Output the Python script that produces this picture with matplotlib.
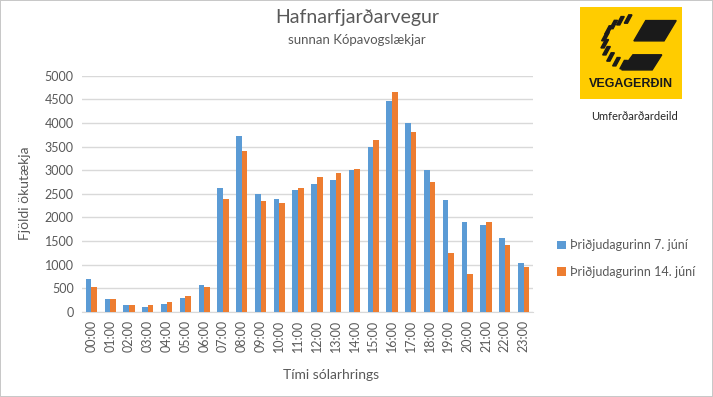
import matplotlib
matplotlib.use("Agg")
import matplotlib.pyplot as plt
import numpy as np
from matplotlib.patches import Polygon, Rectangle

hours = [f"{h:02d}:00" for h in range(24)]
week1 = [700, 275, 150, 100, 170, 300, 570, 2630, 3720, 2500, 2380, 2570,
         2700, 2780, 3000, 3500, 4460, 3990, 3000, 2360, 1890, 1840, 1560, 1040]
week2 = [520, 270, 150, 145, 205, 330, 520, 2380, 3400, 2350, 2300, 2630,
         2850, 2930, 3030, 3630, 4660, 3800, 2750, 1240, 800, 1890, 1410, 940]
labels = ["Þriðjudagurinn 7. júní", "Þriðjudagurinn 14. júní"]

BLUE = "#5B9BD5"
ORANGE = "#ED7D31"
GRID = "#D9D9D9"
TXT = "#595959"

plt.rcParams['font.family'] = ['Lato', 'DejaVu Sans']

W, H = 713, 397
fig = plt.figure(figsize=(W / 100, H / 100), dpi=100)
fig.patch.set_facecolor("white")
fig.patch.set_edgecolor("#C8C8C8")
fig.patch.set_linewidth(1.2)

def px(x0, y0, x1, y1):
    return [x0 / W, 1 - y1 / H, (x1 - x0) / W, (y1 - y0) / H]

ax = fig.add_axes(px(82, 75.7, 533, 311.7))
x = np.arange(len(hours))
bw = 0.3
ax.bar(x - bw / 2, week1, bw, color=BLUE, label=labels[0], zorder=3)
ax.bar(x + bw / 2, week2, bw, color=ORANGE, label=labels[1], zorder=3)
ax.set_xlim(-0.5, 23.5)
ax.set_ylim(0, 5000)
ax.set_yticks(np.arange(0, 5001, 500))
ax.grid(axis="y", color=GRID, linewidth=1, zorder=0)
ax.set_xticks(x)
ax.set_xticklabels(hours, rotation=90)
ax.tick_params(length=0, labelsize=9, colors=TXT, pad=6)
for s in ["top", "right", "left"]:
    ax.spines[s].set_visible(False)
ax.spines["bottom"].set_color(GRID)
ax.set_ylabel("Fjöldi ökutækja", fontsize=10, color=TXT, labelpad=10)

fig.text(331 / W, 1 - 375 / H, "Tími sólarhrings", fontsize=10, color=TXT,
         ha="center", va="center")
fig.text(357 / W, 1 - 17 / H, "Hafnarfjarðarvegur", fontsize=14, color=TXT,
         ha="center", va="center")
fig.text(357 / W, 1 - 40 / H, "sunnan Kópavogslækjar", fontsize=9.5, color=TXT,
         ha="center", va="center")

leg = fig.legend(loc="upper left", bbox_to_anchor=(546 / W, 1 - 228 / H),
                 frameon=False, fontsize=9, labelspacing=1.15,
                 handlelength=0.7, handleheight=0.7, handletextpad=0.3)
for t in leg.get_texts():
    t.set_color(TXT)

# Logo
lax = fig.add_axes(px(580, 7, 682, 99))
lax.set_xlim(0, 318)
lax.set_ylim(285, 0)
lax.axis("off")
lax.add_patch(Rectangle((0, 0), 318, 285, color="#FFCC00"))
blk = "#1a1a1a"
lax.add_patch(Polygon([(205, 42), (300, 42), (262, 105), (168, 105)], color=blk))
lax.add_patch(Polygon([(165, 148), (255, 148), (225, 195), (130, 195)], color=blk))
# C-shaped stripes
cx, cy, r = 150, 122, 80
for ang in np.linspace(95, 255, 10):
    a = np.radians(ang)
    x0 = cx + r * np.cos(a)
    y0 = cy - r * np.sin(a) * 0.9
    dx, dy = 14, -26
    w = 5
    lax.add_patch(Polygon([(x0 - w, y0), (x0 + dx - w, y0 + dy),
                           (x0 + dx + w, y0 + dy), (x0 + w, y0)],
                          color=blk))
lax.text(159, 240, "VEGAGERÐIN", fontsize=9, fontweight="bold", color=blk,
         ha="center", va="center", family=["Liberation Sans", "DejaVu Sans"])
fig.text(634 / W, 1 - 116 / H, "Umferðarðardeild", fontsize=8, color="#262626",
         ha="center", va="center")

fig.savefig("out.png", dpi=100, facecolor=fig.get_facecolor(),
            edgecolor=fig.get_edgecolor())
